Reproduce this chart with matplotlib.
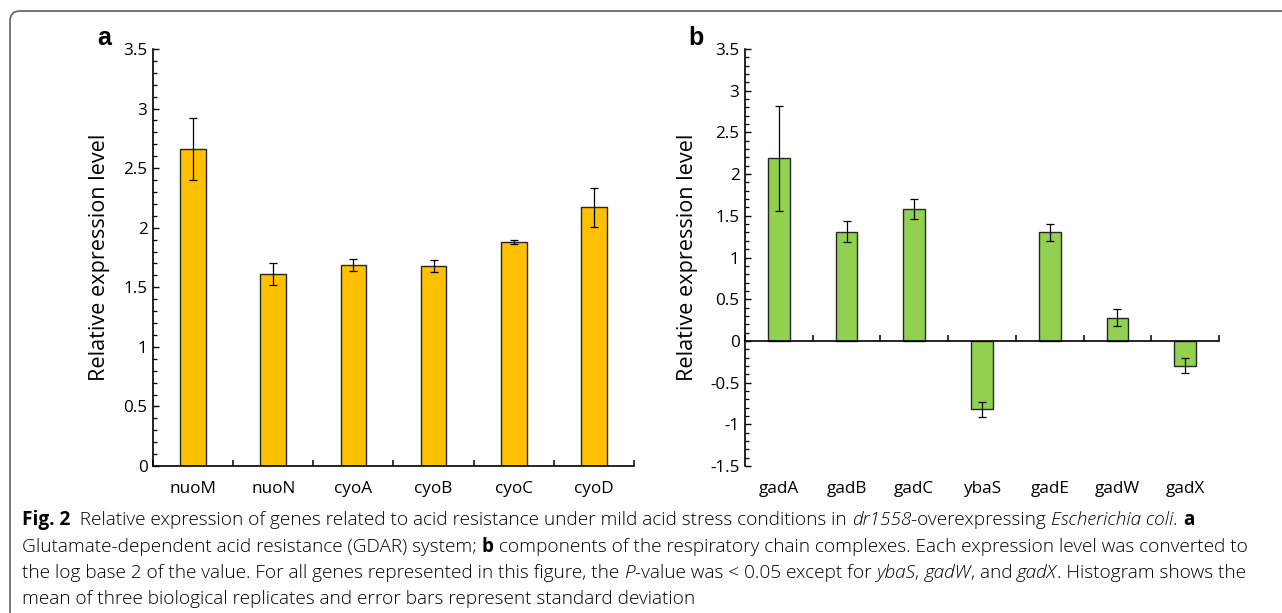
import matplotlib
matplotlib.use("Agg")
import matplotlib.pyplot as plt
from matplotlib.patches import FancyBboxPatch
from matplotlib.transforms import IdentityTransform
from matplotlib.ticker import MultipleLocator
import numpy as np

# ---------------- data ----------------
genes_a = ["nuoM", "nuoN", "cyoA", "cyoB", "cyoC", "cyoD"]
values_a = [2.66, 1.61, 1.69, 1.68, 1.88, 2.17]
errors_a = [0.26, 0.09, 0.05, 0.05, 0.02, 0.16]

genes_b = ["gadA", "gadB", "gadC", "ybaS", "gadE", "gadW", "gadX"]
values_b = [2.19, 1.31, 1.58, -0.82, 1.30, 0.28, -0.30]
errors_b = [0.63, 0.13, 0.12, 0.09, 0.10, 0.10, 0.09]

yticks_a = [0, 0.5, 1, 1.5, 2, 2.5, 3, 3.5]
ylabels_a = ["0", "0.5", "1", "1.5", "2", "2.5", "3", "3.5"]
yticks_b = [-1.5, -1, -0.5, 0, 0.5, 1, 1.5, 2, 2.5, 3, 3.5]
ylabels_b = ["-1.5", "-1", "-0.5", "0", "0.5", "1", "1.5", "2", "2.5", "3", "3.5"]

ylabel_text = "Relative expression level"

caption_lines = [
    [("Fig. 2", "bold"), ("  Relative expression of genes related to acid resistance under mild acid stress conditions in ", "normal"),
     ("dr1558", "italic"), ("-overexpressing ", "normal"), ("Escherichia coli", "italic"), (". ", "normal"), ("a", "bold")],
    [("Glutamate-dependent acid resistance (GDAR) system; ", "normal"), ("b", "bold"),
     (" components of the respiratory chain complexes. Each expression level was converted to", "normal")],
    [("the log base 2 of the value. For all genes represented in this figure, the ", "normal"), ("P", "italic"),
     ("-value was < 0.05 except for ", "normal"), ("ybaS", "italic"), (", ", "normal"), ("gadW", "italic"),
     (", and ", "normal"), ("gadX", "italic"), (". Histogram shows the", "normal")],
    [("mean of three biological replicates and error bars represent standard deviation", "normal")],
]

# ---------------- figure ----------------
W, H = 1282, 613
fig = plt.figure(figsize=(W / 100, H / 100), dpi=100)
fig.patch.set_facecolor("white")

TICK_FONT = "Open Sans"
TICK_SIZE = 12.3


def rect(x0, x1, ytop, ybot):
    return [x0 / W, 1 - ybot / H, (x1 - x0) / W, (ybot - ytop) / H]


def style_panel(ax, genes, values, errors, color, yticks, ylabels, ylim, label_x):
    n = len(genes)
    x = np.arange(n)
    ax.bar(x, values, width=0.32, color=color, edgecolor="#262626", linewidth=1.0, zorder=2,
           yerr=errors, error_kw=dict(ecolor="black", elinewidth=0.9, capsize=3, capthick=0.9, zorder=3))
    ax.set_xlim(-0.5, n - 0.5)
    ax.set_ylim(*ylim)
    for s in ("top", "right"):
        ax.spines[s].set_visible(False)
    for s in ("left", "bottom"):
        ax.spines[s].set_linewidth(1.2)
        ax.spines[s].set_color("black")
    ax.spines["bottom"].set_position(("data", 0))
    ax.set_xticks(np.arange(n + 1) - 0.5)
    ax.set_xticklabels([])
    ax.tick_params(axis="x", direction="in", length=4.5, width=1.1, color="black")
    ax.set_yticks(yticks, ylabels)
    ax.yaxis.set_minor_locator(MultipleLocator(0.1))
    ax.tick_params(axis="y", which="major", direction="in", length=4.5, width=1.0, pad=4,
                   labelsize=TICK_SIZE)
    ax.tick_params(axis="y", which="minor", direction="in", length=3, width=0.9)
    for lab in ax.get_yticklabels():
        lab.set_fontfamily(TICK_FONT)
    sec = ax.secondary_xaxis(0)
    sec.set_xticks(x, genes)
    sec.tick_params(length=0, pad=11, labelsize=TICK_SIZE)
    for lab in sec.get_xticklabels():
        lab.set_fontfamily(TICK_FONT)
    sec.spines["bottom"].set_visible(False)
    ax.set_ylabel(ylabel_text, fontsize=15.6, fontfamily="Open Sans")
    ax.yaxis.set_label_coords(label_x, 0.5)


ax_a = fig.add_axes(rect(153, 634, 49, 466))
style_panel(ax_a, genes_a, values_a, errors_a, "#FFC000", yticks_a, ylabels_a, (0, 3.5), -0.09)

ax_b = fig.add_axes(rect(745, 1219, 49, 466))
style_panel(ax_b, genes_b, values_b, errors_b, "#92D050", yticks_b, ylabels_b, (-1.5, 3.5), -0.10)

# panel letters
fig.text(104 / W, 1 - 45 / H, "a", fontsize=18, fontweight="bold", fontfamily="Liberation Sans",
         ha="center", va="baseline")
fig.text(696 / W, 1 - 45 / H, "b", fontsize=18, fontweight="bold", fontfamily="Liberation Sans",
         ha="center", va="baseline")

# frame with rounded corner
frame = FancyBboxPatch((10, -40), 1400, H - 11 + 40, boxstyle="round,pad=0,rounding_size=10",
                       transform=IdentityTransform(), fill=False, edgecolor="#6a6a6a", linewidth=1.3)
fig.add_artist(frame)

# ---------------- caption ----------------
renderer = fig.canvas.get_renderer()
CAP_FONT = "Open Sans"


def seg_props(style):
    if style == "bold":
        return dict(fontweight="bold", fontstyle="normal")
    if style == "italic":
        return dict(fontweight="light", fontstyle="italic")
    return dict(fontweight="light", fontstyle="normal")


def text_width(txt, style, size):
    t1 = fig.text(0, 0, txt + "|", fontsize=size, fontfamily=CAP_FONT, **seg_props(style))
    t2 = fig.text(0, 0, "|", fontsize=size, fontfamily=CAP_FONT, **seg_props(style))
    w = t1.get_window_extent(renderer).width - t2.get_window_extent(renderer).width
    t1.remove()
    t2.remove()
    return w


def line_width(segs, size):
    return sum(text_width(t, s, size) for t, s in segs)


trial = 12.0
target = 1250 - 22
cap_size = trial * target / line_width(caption_lines[1], trial)

baselines = [525, 552, 578, 604]
for segs, yb in zip(caption_lines, baselines):
    x = 22
    for txt, style in segs:
        fig.text(x / W, 1 - yb / H, txt, fontsize=cap_size, fontfamily=CAP_FONT,
                 ha="left", va="baseline", **seg_props(style))
        x += text_width(txt, style, cap_size)

fig.savefig("out.png", dpi=100)
